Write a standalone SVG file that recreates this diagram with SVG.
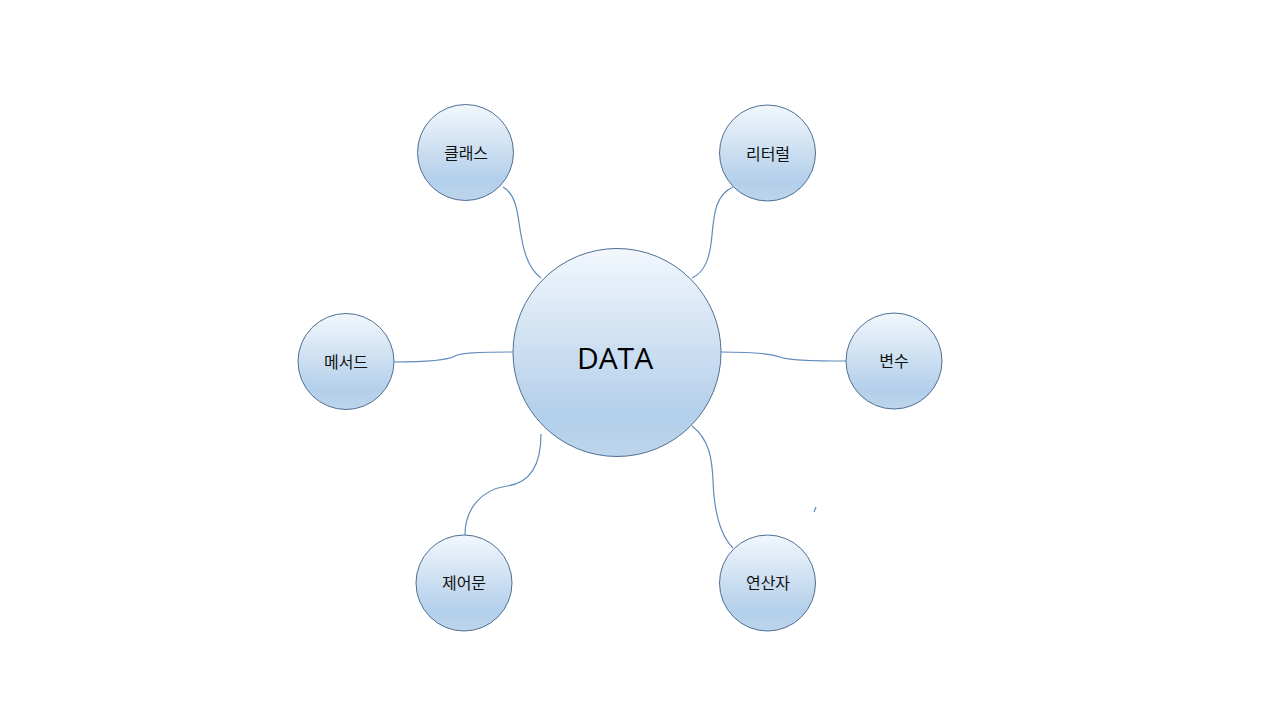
<svg xmlns="http://www.w3.org/2000/svg" width="1280" height="720" viewBox="0 0 1280 720">
<style>
.node circle{fill:url(#g);stroke:#4f6f93;stroke-width:1}
.lbl{font-family:"Noto Sans CJK KR","Noto Sans",sans-serif;font-size:16px;fill:#111;text-anchor:middle;dominant-baseline:central}
.big{font-family:"Open Sans","Noto Sans",sans-serif;font-size:30px;fill:#000;text-anchor:middle;dominant-baseline:central}
#connectors path{fill:none;stroke:#5f8cbd;stroke-width:1.2}
</style>
<defs>
<linearGradient id="g" x1="0" y1="0" x2="0" y2="1">
<stop offset="0" stop-color="#f2f7fc"/>
<stop offset="0.8" stop-color="#b3cfea"/>
<stop offset="1" stop-color="#bdd5ec"/>
</linearGradient>
</defs>
<rect width="1280" height="720" fill="#fff"/>
<g id="connectors">
<path d="M503,187 C518,195 518,220 521,235 C524,255 530,270 541,278"/>
<path d="M733,187 C715,195 714,215 712,235 C710,258 705,272 692,278"/>
<path d="M394,362 C430,362 448,360 455,356 C462,352 490,352 513,352"/>
<path d="M721,352 C750,352 770,353 780,357 C790,361 820,361 846,361"/>
<path d="M541,434 C541,465 530,483 507,486 C480,490 465,510 465,535"/>
<path d="M692,426 C710,440 712,460 713,480 C714,510 720,535 733,548"/>
<path d="M814,512 L816,507" stroke-width="1"/>
</g>
<g id="data" class="node"><circle cx="617" cy="352.5" r="104"/><text class="big" x="615" y="357">DATA</text></g>
<g id="class" class="node"><circle cx="465.5" cy="152.5" r="48"/><text class="lbl" x="466" y="152">클래스</text></g>
<g id="literal" class="node"><circle cx="767.5" cy="153" r="48"/><text class="lbl" x="768" y="153">리터럴</text></g>
<g id="method" class="node"><circle cx="346" cy="361.5" r="48"/><text class="lbl" x="346" y="361">메서드</text></g>
<g id="variable" class="node"><circle cx="894" cy="361" r="48"/><text class="lbl" x="894" y="360">변수</text></g>
<g id="control" class="node"><circle cx="464" cy="583" r="48"/><text class="lbl" x="464" y="582">제어문</text></g>
<g id="operator" class="node"><circle cx="767.5" cy="583" r="48"/><text class="lbl" x="768" y="582">연산자</text></g>
</svg>
